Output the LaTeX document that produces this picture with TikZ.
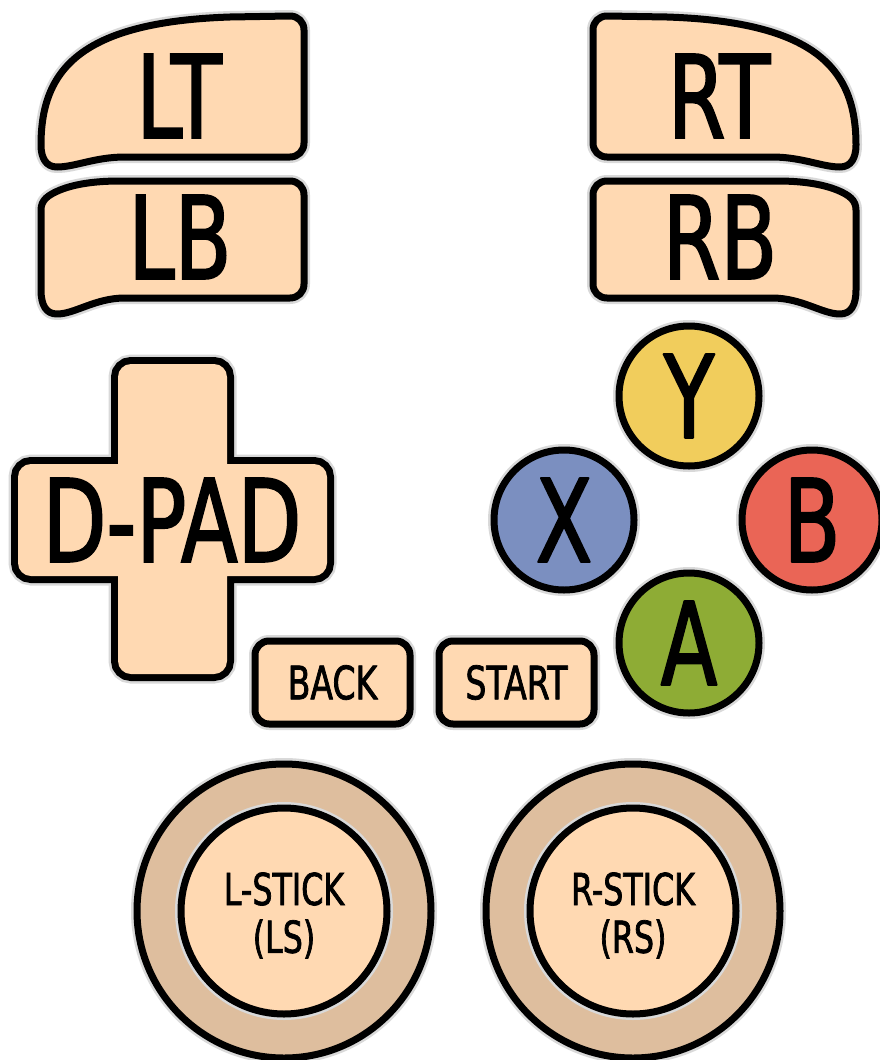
\documentclass[tikz,border=0pt]{standalone}
\usepackage{fontspec}
\newfontfamily\padfont[FakeStretch=0.72, FakeBold=1.6]{DejaVu Sans}
\definecolor{peach}{RGB}{255,217,178}
\definecolor{ringtan}{RGB}{222,190,158}
\definecolor{ybtn}{RGB}{241,205,92}
\definecolor{xbtn}{RGB}{123,143,192}
\definecolor{bbtn}{RGB}{234,101,86}
\definecolor{abtn}{RGB}{142,172,53}
\tikzset{
  halo/.style={draw=black!15, line width=12pt, line join=round},
  outl/.style={draw=black, line width=7pt, line join=round, preaction={halo}},
  bigtxt/.style={font=\padfont\fontsize{115}{115}\selectfont, inner sep=0pt},
  smalltxt/.style={font=\padfont\fontsize{44}{44}\selectfont, inner sep=0pt},
  facebtn/.style={circle, outl, minimum size=140pt, inner sep=0pt, font=\padfont\fontsize{115}{115}\selectfont},
  keybox/.style={outl, fill=peach, rounded corners=14pt, minimum width=155pt, minimum height=83pt, inner sep=0pt, font=\padfont\fontsize{46}{46}\selectfont},
  ring/.style={circle, outl, fill=ringtan, minimum size=294pt, inner sep=0pt},
  stickin/.style={circle, outl, fill=peach, minimum size=206pt, inner sep=0pt},
}
\begin{document}
\begin{tikzpicture}[x=1pt, y=-1pt]
\useasboundingbox[fill=white] (0,0) rectangle (880,1060);

% ---- Left bumpers ----
\draw[outl, fill=peach] (41,145) .. controls (41,70) and (80,22) .. (230,17) -- (290,16)
  .. controls (298,16) and (304,22) .. (304,30) -- (304,143)
  .. controls (304,151) and (298,157) .. (290,157) -- (125,157)
  .. controls (95,157) and (75,167) .. (57,167)
  .. controls (46,167) and (41,158) .. (41,145) -- cycle;
\node[bigtxt] (LT) at (179,96) {LT};

\draw[outl, fill=peach] (41,290) -- (41,210) .. controls (41,200) and (48,195) .. (60,190)
  .. controls (75,184) and (95,181) .. (120,181) -- (290,181)
  .. controls (298,181) and (304,187) .. (304,195) -- (304,284)
  .. controls (304,292) and (298,298) .. (290,298) -- (125,298)
  .. controls (95,298) and (75,314) .. (57,314)
  .. controls (46,314) and (41,305) .. (41,290) -- cycle;
\node[bigtxt] (LB) at (180,237) {LB};

% ---- Right bumpers (mirrored) ----
\begin{scope}[xshift=897pt, xscale=-1]
\draw[outl, fill=peach] (41,145) .. controls (41,70) and (80,22) .. (230,17) -- (290,16)
  .. controls (298,16) and (304,22) .. (304,30) -- (304,143)
  .. controls (304,151) and (298,157) .. (290,157) -- (125,157)
  .. controls (95,157) and (75,167) .. (57,167)
  .. controls (46,167) and (41,158) .. (41,145) -- cycle;
\draw[outl, fill=peach] (41,290) -- (41,210) .. controls (41,200) and (48,195) .. (60,190)
  .. controls (75,184) and (95,181) .. (120,181) -- (290,181)
  .. controls (298,181) and (304,187) .. (304,195) -- (304,284)
  .. controls (304,292) and (298,298) .. (290,298) -- (125,298)
  .. controls (95,298) and (75,314) .. (57,314)
  .. controls (46,314) and (41,305) .. (41,290) -- cycle;
\end{scope}
\node[bigtxt] (RT) at (719,96) {RT};
\node[bigtxt] (RB) at (720,237) {RB};

% ---- D-pad ----
\path[draw=black!15, line width=19pt, rounded corners=13pt]
  (118,364) rectangle (227,674) (18,464) rectangle (327,576);
\path[draw=black, line width=14pt, rounded corners=13pt]
  (118,364) rectangle (227,674) (18,464) rectangle (327,576);
\path[fill=peach, rounded corners=13pt]
  (118,364) rectangle (227,674) (18,464) rectangle (327,576);
\node[bigtxt] (dpad) at (172,520) {D-PAD};

% ---- Face buttons ----
\node[facebtn, fill=ybtn] (Y) at (689,396) {Y};
\node[facebtn, fill=xbtn] (X) at (564,520) {X};
\node[facebtn, fill=bbtn] (B) at (812,520) {B};
\node[facebtn, fill=abtn] (A) at (689,643) {A};

% ---- Back / Start ----
\node[keybox] (back) at (332.5,682.5) {BACK};
\node[keybox] (start) at (516.5,682.5) {START};

% ---- Sticks ----
\node[ring] (lsring) at (284,911) {};
\node[stickin] (ls) at (284,911) {};
\node[smalltxt] (lstxt1) at (284,889) {L-STICK};
\node[smalltxt] (lstxt2) at (284,939) {(LS)};
\node[ring] (rsring) at (633,911) {};
\node[stickin] (rs) at (633,911) {};
\node[smalltxt] (rstxt1) at (633,889) {R-STICK};
\node[smalltxt] (rstxt2) at (633,939) {(RS)};
\end{tikzpicture}
\end{document}
